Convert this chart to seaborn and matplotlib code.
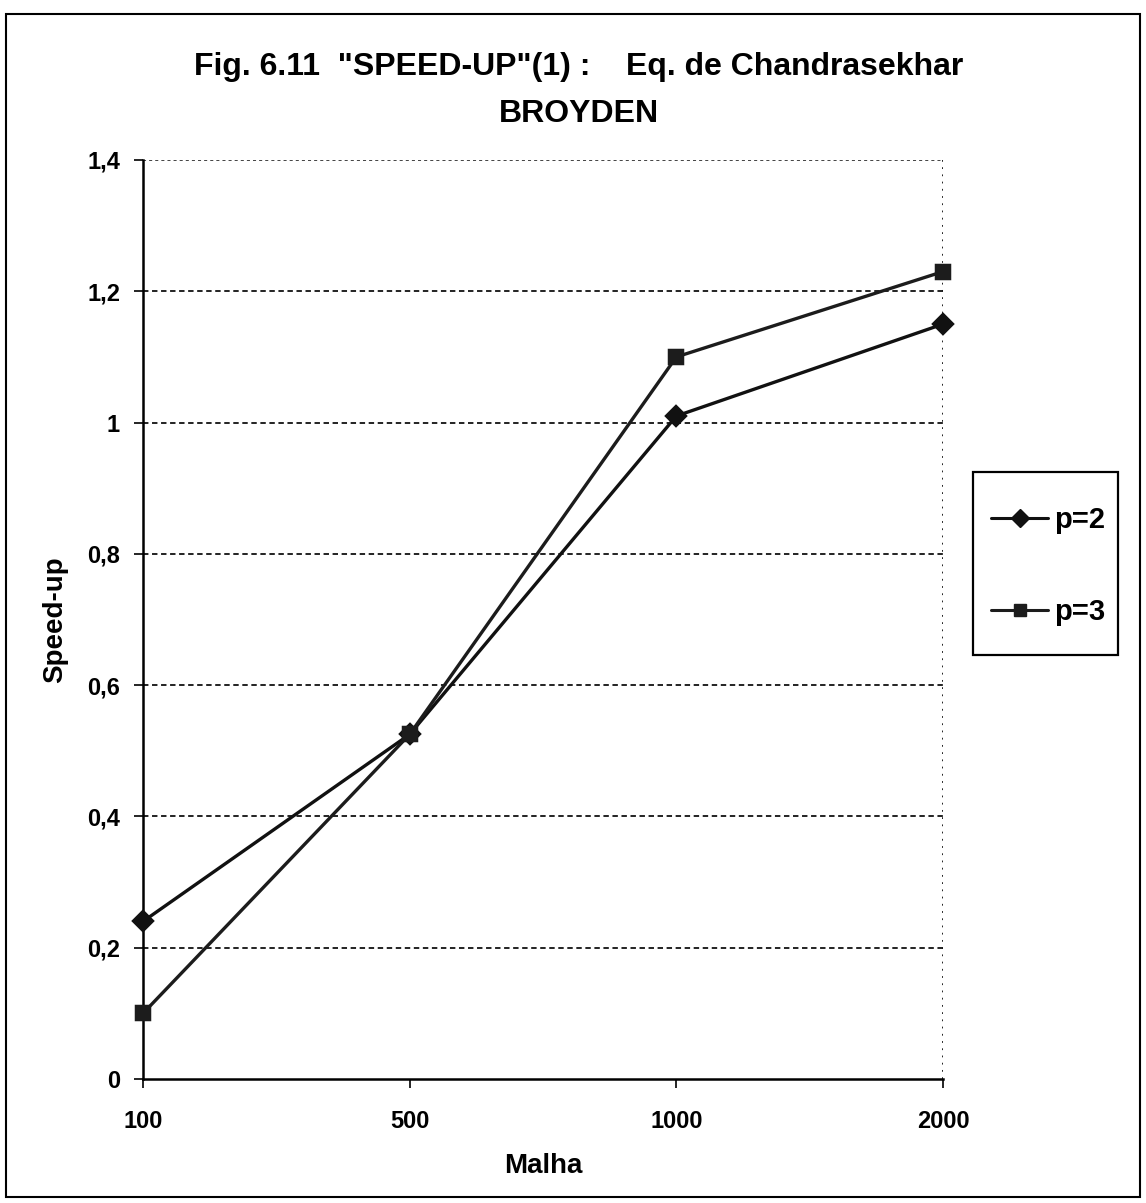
import numpy as np
import pandas as pd
import seaborn as sns
from matplotlib import pyplot as plt
from matplotlib.lines import Line2D
from matplotlib.patches import Rectangle
from matplotlib.ticker import FuncFormatter

# data
malha = ["100", "500", "1000", "2000"]
speedup_p2 = [0.24, 0.525, 1.01, 1.15]
speedup_p3 = [0.10, 0.525, 1.10, 1.23]
series = ["p=2", "p=3"]

df = pd.DataFrame({
    "Malha": malha * 2,
    "Speed-up": speedup_p2 + speedup_p3,
    "p": [series[0]] * 4 + [series[1]] * 4,
})

sns.set_theme(style="white")
plt.rcParams["font.family"] = ["Liberation Sans", "DejaVu Sans"]
plt.rcParams["font.weight"] = "bold"
plt.rcParams["text.color"] = "black"
plt.rcParams["axes.labelcolor"] = "black"
plt.rcParams["xtick.color"] = "black"
plt.rcParams["ytick.color"] = "black"

fig = plt.figure(figsize=(11.46, 12.03), dpi=100)
ax = fig.add_axes([0.1248, 0.1031, 0.6981, 0.7639])

sns.pointplot(
    data=df, x="Malha", y="Speed-up", hue="p", order=malha,
    markers=["D", "s"], linestyles=["-", "-"],
    palette=["#111111", "#1c1c1c"], markersize=10, linewidth=2.4,
    ax=ax, legend=False,
)
# keep the end markers whole on the axis edges
for ln in ax.lines:
    ln.set_clip_on(False)
    ln.set_zorder(5)

ax.set_xlim(0, len(malha) - 1)
ax.set_ylim(0, 1.4)
ax.set_yticks(np.arange(0, 1.41, 0.2))
ax.yaxis.set_major_formatter(
    FuncFormatter(lambda v, _: f"{v:.1f}".rstrip("0").rstrip(".").replace(".", ","))
)

# grid lines
for yv in np.arange(0.2, 1.21, 0.2):
    ax.axhline(yv, color="#111111", linestyle=(0, (3, 2)), linewidth=1.3, zorder=0)
ax.axhline(1.4, color="#111111", linestyle=(0, (2, 2)), linewidth=1.1, zorder=0)
ax.axvline(len(malha) - 1, color="#111111", linestyle=(0, (1, 3)), linewidth=1.3, zorder=0)

for side in ["top", "right"]:
    ax.spines[side].set_visible(False)
for side in ["left", "bottom"]:
    ax.spines[side].set_color("black")
    ax.spines[side].set_linewidth(1.8)

ax.tick_params(axis="both", direction="out", length=6.5, width=1.2, color="black",
               labelsize=17, left=True, bottom=True)
ax.tick_params(axis="y", pad=10)
ax.tick_params(axis="x", pad=16)
for lbl in ax.get_xticklabels() + ax.get_yticklabels():
    lbl.set_fontweight("bold")

ax.set_xlabel("Malha", fontsize=20, fontweight="bold", labelpad=14)
ax.set_ylabel("Speed-up", fontsize=20, fontweight="bold", labelpad=14)

fig.text(0.505, 0.9377, "Fig. 6.11  \"SPEED-UP\"(1) :    Eq. de Chandrasekhar",
         ha="center", va="baseline", fontsize=23, fontweight="bold")
fig.text(0.505, 0.8986, "BROYDEN", ha="center", va="baseline", fontsize=23, fontweight="bold")

# legend box
handles = [
    Line2D([], [], color="#111111", marker="D", markersize=9, linewidth=2.2),
    Line2D([], [], color="#1c1c1c", marker="s", markersize=8, linewidth=2.2),
]
leg = fig.legend(handles, series, loc="center", bbox_to_anchor=(0.9148, 0.5295),
                 frameon=False, prop={"weight": "bold", "size": 21},
                 labelspacing=2.2, handlelength=1.95, handletextpad=0.2, borderpad=0)
fig.patches.append(Rectangle((0.849, 0.4555), 0.1265, 0.152, transform=fig.transFigure,
                             fill=False, edgecolor="black", linewidth=1.6))

# outer border of the figure
fig.patches.append(Rectangle((0.005, 0.005), 0.99, 0.983, transform=fig.transFigure,
                             fill=False, edgecolor="black", linewidth=1.5))

fig.savefig("out.png", dpi=100)
